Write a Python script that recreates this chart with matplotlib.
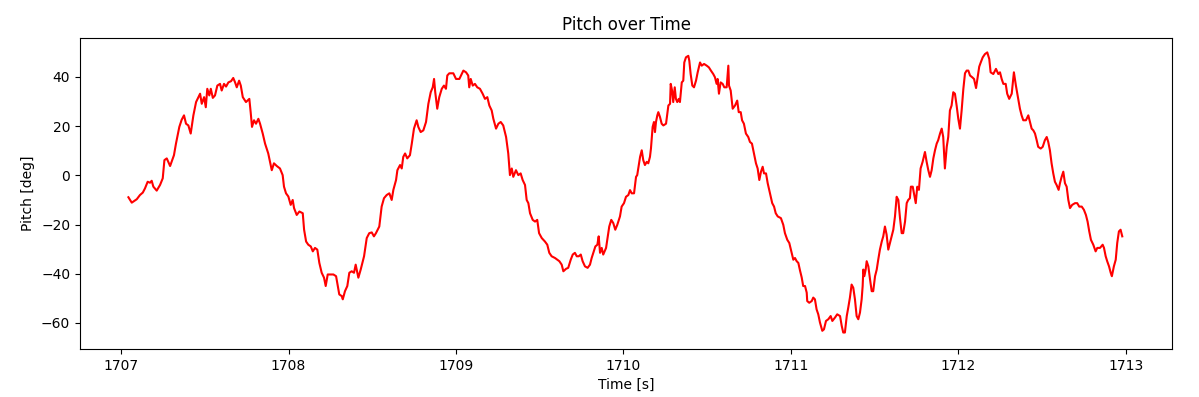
import matplotlib
matplotlib.use("Agg")
import matplotlib.pyplot as plt

title = "Pitch over Time"
x_label = "Time [s]"
y_label = "Pitch [deg]"

time_s = [
1707.044,1707.064,1707.094,1707.113,1707.130,1707.143,1707.159,1707.173,1707.183,1707.193,
1707.213,1707.233,1707.249,1707.259,1707.273,1707.293,1707.316,1707.328,1707.348,1707.362,
1707.376,1707.388,1707.402,1707.416,1707.432,1707.448,1707.462,1707.472,1707.482,1707.496,
1707.506,1707.515,1707.527,1707.536,1707.548,1707.561,1707.575,1707.591,1707.601,1707.615,
1707.627,1707.641,1707.657,1707.670,1707.681,1707.691,1707.705,1707.715,1707.727,1707.746,
1707.766,1707.774,1707.782,1707.794,1707.806,1707.820,1707.830,1707.846,1707.860,1707.879,
1707.900,1707.913,1707.930,1707.949,1707.965,1707.973,1707.985,1707.999,1708.013,1708.025,
1708.033,1708.049,1708.065,1708.085,1708.093,1708.105,1708.118,1708.133,1708.145,1708.158,
1708.172,1708.184,1708.198,1708.212,1708.222,1708.234,1708.248,1708.268,1708.284,1708.294,
1708.303,1708.318,1708.324,1708.337,1708.351,1708.363,1708.377,1708.391,1708.401,1708.417,
1708.431,1708.451,1708.467,1708.482,1708.497,1708.510,1708.522,1708.542,1708.556,1708.570,
1708.586,1708.602,1708.616,1708.626,1708.642,1708.650,1708.666,1708.676,1708.685,1708.696,
1708.709,1708.725,1708.736,1708.749,1708.765,1708.775,1708.789,1708.805,1708.821,1708.835,
1708.849,1708.861,1708.869,1708.876,1708.888,1708.900,1708.915,1708.928,1708.940,1708.948,
1708.960,1708.984,1709.000,1709.020,1709.034,1709.044,1709.060,1709.073,1709.079,1709.088,
1709.100,1709.113,1709.127,1709.143,1709.159,1709.173,1709.187,1709.199,1709.213,1709.223,
1709.239,1709.253,1709.267,1709.282,1709.299,1709.312,1709.322,1709.333,1709.342,1709.358,
1709.372,1709.386,1709.398,1709.412,1709.422,1709.432,1709.442,1709.458,1709.472,1709.485,
1709.496,1709.512,1709.531,1709.545,1709.557,1709.571,1709.591,1709.605,1709.617,1709.631,
1709.641,1709.657,1709.670,1709.685,1709.697,1709.710,1709.721,1709.733,1709.745,1709.756,
1709.770,1709.786,1709.800,1709.810,1709.820,1709.832,1709.844,1709.852,1709.860,1709.870,
1709.879,1709.896,1709.903,1709.915,1709.927,1709.939,1709.951,1709.963,1709.979,1709.989,
1710.003,1710.015,1710.029,1710.039,1710.049,1710.063,1710.075,1710.082,1710.088,1710.099,
1710.109,1710.118,1710.128,1710.139,1710.148,1710.158,1710.164,1710.168,1710.174,1710.182,
1710.188,1710.194,1710.202,1710.208,1710.218,1710.228,1710.238,1710.254,1710.262,1710.268,
1710.278,1710.282,1710.290,1710.297,1710.306,1710.313,1710.321,1710.330,1710.337,1710.348,
1710.357,1710.363,1710.373,1710.387,1710.393,1710.401,1710.411,1710.421,1710.433,1710.443,
1710.457,1710.467,1710.481,1710.497,1710.510,1710.522,1710.536,1710.546,1710.556,1710.562,
1710.570,1710.580,1710.592,1710.602,1710.616,1710.626,1710.630,1710.640,1710.652,1710.666,
1710.679,1710.688,1710.700,1710.708,1710.719,1710.731,1710.745,1710.755,1710.767,1710.779,
1710.791,1710.801,1710.811,1710.821,1710.831,1710.839,1710.851,1710.861,1710.875,1710.888,
1710.899,1710.909,1710.921,1710.940,1710.954,1710.964,1710.978,1710.990,1711.004,1711.014,
1711.024,1711.034,1711.044,1711.054,1711.064,1711.073,1711.084,1711.094,1711.097,1711.109,
1711.124,1711.133,1711.143,1711.153,1711.163,1711.173,1711.187,1711.197,1711.209,1711.223,
1711.237,1711.247,1711.263,1711.276,1711.293,1711.303,1711.312,1711.322,1711.333,1711.342,
1711.352,1711.362,1711.372,1711.382,1711.392,1711.402,1711.412,1711.422,1711.428,1711.432,
1711.438,1711.446,1711.452,1711.462,1711.472,1711.482,1711.491,1711.502,1711.512,1711.521,
1711.531,1711.542,1711.551,1711.561,1711.571,1711.581,1711.591,1711.601,1711.611,1711.621,
1711.631,1711.641,1711.651,1711.661,1711.670,1711.681,1711.691,1711.700,1711.710,1711.716,
1711.727,1711.734,1711.745,1711.754,1711.764,1711.774,1711.786,1711.800,1711.810,1711.820,
1711.830,1711.840,1711.850,1711.860,1711.870,1711.879,1711.890,1711.900,1711.909,1711.919,
1711.930,1711.939,1711.949,1711.959,1711.969,1711.979,1711.989,1711.999,1712.009,1712.019,
1712.029,1712.039,1712.049,1712.059,1712.069,1712.082,1712.093,1712.105,1712.113,1712.124,
1712.133,1712.145,1712.158,1712.172,1712.184,1712.192,1712.208,1712.224,1712.238,1712.248,
1712.258,1712.268,1712.282,1712.291,1712.303,1712.318,1712.331,1712.343,1712.357,1712.367,
1712.377,1712.387,1712.403,1712.417,1712.427,1712.437,1712.447,1712.457,1712.467,1712.476,
1712.491,1712.503,1712.516,1712.527,1712.536,1712.546,1712.556,1712.566,1712.576,1712.586,
1712.598,1712.606,1712.616,1712.626,1712.636,1712.646,1712.656,1712.666,1712.679,1712.696,
1712.709,1712.721,1712.736,1712.749,1712.761,1712.771,1712.781,1712.791,1712.805,1712.819,
1712.829,1712.845,1712.861,1712.869,1712.879,1712.888,1712.899,1712.909,1712.916,1712.928,
1712.939,1712.948,1712.958,1712.968,1712.978,
]

pitch_deg = [
-8.9,-11.1,-9.7,-8.0,-7.0,-5.3,-2.6,-3.0,-2.2,-4.6,
-6.2,-3.9,-1.2,6.2,6.9,3.8,8.2,12.9,19.7,22.6,
24.4,21.0,20.3,17.0,24.4,29.8,31.8,33.2,29.1,31.8,
27.7,35.2,32.5,35.2,31.5,32.5,36.5,37.2,34.5,37.2,
36.1,37.8,38.3,39.6,37.8,35.8,38.5,36.5,31.8,29.8,
31.1,25.7,19.7,22.4,21.0,23.0,21.0,17.0,12.9,8.9,
2.1,4.9,3.8,2.8,0.1,-4.6,-7.3,-8.6,-12.0,-10.0,
-13.3,-16.1,-14.7,-15.4,-22.1,-26.9,-28.2,-28.9,-30.9,-29.5,
-30.2,-35.6,-39.6,-41.6,-45.0,-40.3,-40.3,-40.3,-41.0,-45.0,
-48.4,-49.1,-50.4,-47.1,-45.0,-39.6,-39.0,-39.6,-36.3,-41.6,
-38.3,-32.9,-25.5,-23.5,-23.2,-24.8,-23.5,-20.8,-12.7,-9.3,
-8.0,-7.3,-10.0,-5.9,-1.9,2.1,4.2,2.8,7.5,8.9,
6.9,8.2,12.9,19.0,22.4,19.7,17.6,18.3,21.7,29.1,
33.8,35.8,39.2,33.8,27.1,31.8,35.2,36.5,35.2,40.6,
41.5,41.5,39.2,39.2,41.2,42.6,41.9,40.6,35.8,39.2,
36.5,37.2,35.8,35.2,33.2,31.1,31.8,28.4,26.4,23.0,
19.0,21.0,21.7,20.3,15.6,8.9,0.1,2.8,-0.6,2.1,
0.1,0.8,-1.9,-3.9,-10.0,-11.3,-15.4,-18.1,-18.8,-18.1,
-23.5,-25.5,-26.9,-28.2,-31.5,-32.9,-33.6,-34.3,-34.9,-36.3,
-39.0,-38.0,-37.6,-34.3,-32.2,-31.5,-32.9,-32.9,-32.2,-34.9,
-37.0,-37.6,-36.3,-33.6,-31.5,-28.9,-28.2,-24.8,-31.5,-29.5,
-32.2,-29.5,-26.2,-20.8,-18.1,-19.4,-22.1,-20.1,-16.7,-12.7,
-11.3,-8.7,-8.0,-6.0,-7.3,-7.3,-0.6,0.1,2.8,7.5,
10.2,6.2,4.2,5.5,4.9,7.5,10.9,14.3,19.7,21.7,
17.6,21.7,24.4,25.7,23.7,21.0,20.3,21.0,25.1,28.4,
29.1,37.2,34.5,29.8,35.8,31.1,29.8,31.1,29.8,37.8,
38.5,45.9,48.0,48.6,46.6,41.2,36.5,35.8,38.5,41.9,
45.9,44.6,45.3,44.6,43.9,42.6,41.2,39.9,37.2,39.2,
33.2,37.8,37.2,35.8,35.8,44.6,36.5,34.5,27.1,28.4,
30.4,25.7,25.7,22.4,21.0,17.0,15.6,13.6,12.9,8.9,
4.9,2.8,-1.9,1.5,3.5,0.8,0.8,-3.2,-7.3,-11.3,
-12.7,-15.4,-16.7,-17.4,-20.1,-23.5,-26.2,-27.5,-31.5,-34.3,
-33.6,-34.9,-35.6,-38.7,-41.5,-45.0,-45.0,-47.7,-51.1,-51.8,
-51.1,-49.7,-50.4,-54.5,-56.5,-59.8,-63.2,-62.6,-59.2,-58.5,
-57.2,-59.2,-57.8,-56.5,-57.2,-61.2,-63.9,-63.9,-57.2,-53.8,
-49.7,-44.4,-45.7,-50.4,-57.2,-58.5,-55.8,-50.4,-45.0,-38.3,
-41.0,-38.3,-34.9,-37.0,-42.3,-47.1,-47.1,-41.0,-38.3,-34.3,
-30.2,-26.9,-24.8,-20.8,-24.1,-30.2,-27.5,-24.8,-22.1,-16.7,
-8.7,-10.0,-17.4,-23.5,-23.5,-18.8,-11.3,-10.0,-9.3,-4.6,
-4.6,-7.3,-11.3,-4.6,-5.9,2.8,5.5,9.5,5.5,2.1,
-0.6,2.1,6.9,10.2,12.9,14.3,17.0,19.0,15.6,2.8,
11.6,15.6,26.4,28.4,33.8,33.2,28.4,23.0,19.0,26.4,
35.0,41.5,42.6,42.6,40.6,39.9,39.2,35.5,39.2,44.2,
45.9,48.0,49.3,50.0,47.3,41.9,41.2,43.3,41.2,41.9,
39.2,37.2,37.2,33.2,31.1,33.2,41.9,36.5,31.1,27.1,
24.4,22.4,22.4,24.4,21.7,19.0,18.3,17.0,14.3,11.6,
10.9,11.6,14.3,15.6,13.6,10.2,4.9,0.8,-2.6,-3.9,
-5.9,-3.2,-0.6,1.5,-3.2,-4.6,-10.0,-13.3,-12.0,-11.3,
-11.3,-12.7,-12.7,-14.0,-16.1,-18.8,-22.8,-26.2,-28.2,-30.9,
-29.5,-29.5,-28.2,-29.5,-32.9,-34.9,-37.0,-39.6,-41.0,-37.0,
-34.3,-27.5,-22.8,-22.1,-24.8,
]

W, H = 1199, 397
fig = plt.figure(figsize=(W / 100, H / 100), dpi=100)
ax = fig.add_axes([80 / W, 1 - 349 / H, (1172 - 80) / W, (349 - 38) / H])
ax.plot(time_s, pitch_deg, color="red", linewidth=1.5)
ax.set_xlim(1706.755, 1713.275)
ax.set_ylim(-70.6, 55.85)
ax.set_title(title)
ax.set_xlabel(x_label)
ax.set_ylabel(y_label)
fig.savefig("out.png", dpi=100)
